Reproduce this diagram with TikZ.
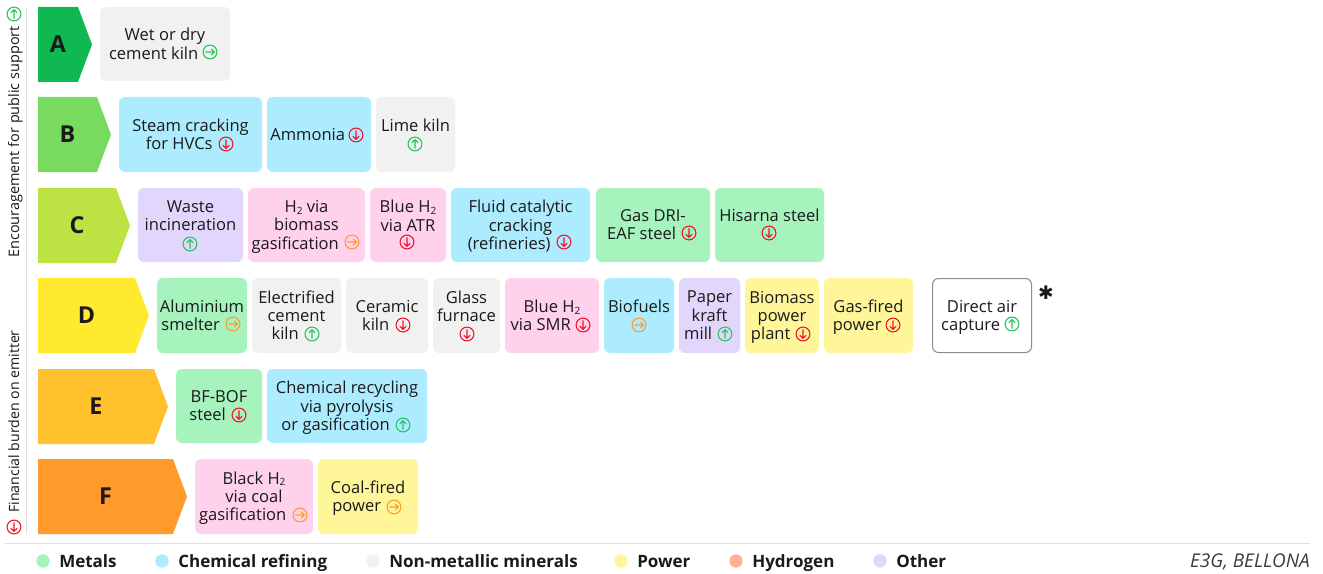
\documentclass[tikz,border=0pt]{standalone}
\usepackage{fontspec}
\setmainfont{Open Sans}
\newfontfamily\dejavu{DejaVu Sans}
\definecolor{cA}{HTML}{10B851}
\definecolor{cB}{HTML}{78DB5F}
\definecolor{cC}{HTML}{BCE244}
\definecolor{cD}{HTML}{FFEA30}
\definecolor{cE}{HTML}{FFC12E}
\definecolor{cF}{HTML}{FF9A2B}
\definecolor{metal}{HTML}{A6F3BE}
\definecolor{chem}{HTML}{ADECFF}
\definecolor{nonmet}{HTML}{F1F1F1}
\definecolor{power}{HTML}{FFF69A}
\definecolor{hyd}{HTML}{FFD1EC}
\definecolor{hydleg}{HTML}{FFB199}
\definecolor{other}{HTML}{E2D6FC}
\definecolor{igreen}{HTML}{22C55E}
\definecolor{ired}{HTML}{F0102A}
\definecolor{iorange}{HTML}{FF9A2B}
\definecolor{ink}{HTML}{1A1A1A}
\newcommand{\Hsub}{H\raisebox{-1.2pt}{\fontsize{7.5}{8}\selectfont 2}}
\newcommand{\ic}{\hspace*{17pt}}
\newcommand{\emptyline}{\mbox{}}
\tikzset{
  x=0.75pt,y=-0.75pt,
  tbox/.style={rounded corners=4.5pt,text=ink,align=center,font=\fontsize{12.4}{13.7}\selectfont,inner sep=0pt,execute at begin node=\strut,execute at end node=\strut},
  gradeL/.style={text=ink,font=\bfseries\fontsize{17.5}{22}\selectfont},
  legtext/.style={anchor=base west,text=ink,font=\bfseries\fontsize{12.75}{16}\selectfont,inner sep=0pt},
  legdot/.style={circle,minimum size=10pt,inner sep=0pt},
  sidetext/.style={rotate=90,anchor=base west,text=ink,inner sep=0pt},
  icongreen/.pic={\draw[igreen,line width=.8pt] (0,0) circle (5.2pt);
     \draw[igreen,line width=.8pt,line cap=round,line join=round] (0,-3.3pt) -- (0,3.3pt) (-2.3pt,1pt) -- (0,3.3pt) -- (2.3pt,1pt);},
  iconred/.pic={\draw[ired,line width=.8pt] (0,0) circle (5.2pt);
     \draw[ired,line width=.8pt,line cap=round,line join=round] (0,3.3pt) -- (0,-3.3pt) (-2.3pt,-1pt) -- (0,-3.3pt) -- (2.3pt,-1pt);},
  iconright/.pic={\draw[#1,line width=.8pt] (0,0) circle (5.2pt);
     \draw[#1,line width=.8pt,line cap=round,line join=round] (-3.3pt,0) -- (3.3pt,0) (1pt,-2.3pt) -- (3.3pt,0) -- (1pt,2.3pt);},
}
\newcommand{\bx}[7]{% name, x1,y1,x2,y2, colour, text
  \path[rounded corners=4.5pt,fill=#6] (#2,#3) rectangle (#4,#5);
  \node[tbox] (#1) at ({(#2+#4)/2},{(#3+#5)/2+2.5}) {#7};}
\newcommand{\chev}[5]{% name, body end, y1, colour, letter
  \fill[#4] (38,#3) -- (#2,#3) -- ({#2+14},{#3+37.5}) -- (#2,{#3+75}) -- (38,{#3+75}) -- cycle;
  \node[gradeL] (#1) at ({(38+#2)/2},{#3+37.5}) {#5};}
\begin{document}
\begin{tikzpicture}
\useasboundingbox[fill=white] (0,0) rectangle (1323,574);
\draw[black!12,line width=.75pt] (26.5,7) -- (26.5,534);
\draw[black!12,line width=.75pt] (5,543.5) -- (1310,543.5);
\node[sidetext,font=\fontsize{10.85}{12}\selectfont] (lab1) at (19,258) {Encouragement for public support};
\node[sidetext,font=\fontsize{10.6}{12}\selectfont] (lab2) at (19,513) {Financial burden on emitter};
\pic at (14,14) {icongreen};
\pic at (14,527) {iconred};
\chev{ga}{78}{7}{cA}{A}
\chev{gb}{97}{97}{cB}{B}
\chev{gc}{116}{188}{cC}{C}
\chev{gd}{135}{278}{cD}{D}
\chev{ge}{154}{369}{cE}{E}
\chev{gf}{173}{459}{cF}{F}
% row A
\bx{a1}{100}{7}{230}{81}{nonmet}{Wet or dry\\cement kiln\ic}
\pic at (210,52) {iconright=igreen};
% row B
\bx{b1}{119}{97}{262}{172}{chem}{Steam cracking\\for HVCs\ic}
\pic at (226,144) {iconred};
\bx{b2}{267}{97}{371}{172}{chem}{Ammonia\ic}
\pic at (356,135) {iconred};
\bx{b3}{376}{97}{455}{172}{nonmet}{Lime kiln\\\emptyline}
\pic at (415,144) {icongreen};
% row C
\bx{c1}{138}{188}{243}{262}{other}{Waste\\incineration\\\emptyline}
\pic at (190,244) {icongreen};
\bx{c2}{248}{188}{365}{262}{hyd}{\Hsub{} via\\biomass\\gasification\ic}
\pic at (352,242) {iconright=iorange};
\bx{c3}{370}{188}{446}{262}{hyd}{Blue \Hsub\\via ATR\\\emptyline}
\pic at (407,242) {iconred};
\bx{c4}{451}{188}{590}{262}{chem}{Fluid catalytic\\cracking\\(refineries)\ic}
\pic at (564,242) {iconred};
\bx{c5}{596}{188}{710}{262}{metal}{Gas DRI-\\EAF steel\ic}
\pic at (689,233) {iconred};
\bx{c6}{715}{188}{824}{262}{metal}{Hisarna steel\\\emptyline}
\pic at (769,233) {iconred};
% row D
\bx{d1}{157}{278}{247}{353}{metal}{Aluminium\\smelter\ic}
\pic at (233,324) {iconright=iorange};
\bx{d2}{252}{278}{341}{353}{nonmet}{Electrified\\cement\\kiln\ic}
\pic at (312,334) {icongreen};
\bx{d3}{346}{278}{428}{353}{nonmet}{Ceramic\\kiln\ic}
\pic at (403,325) {iconred};
\bx{d4}{433}{278}{500}{353}{nonmet}{Glass\\furnace\\\emptyline}
\pic at (467,334) {iconred};
\bx{d5}{505}{278}{599}{353}{hyd}{Blue \Hsub\\via SMR\ic}
\pic at (583,325) {iconred};
\bx{d6}{604}{278}{674}{353}{chem}{Biofuels\\\emptyline}
\pic at (639,325) {iconright=iorange};
\bx{d7}{679}{278}{740}{353}{other}{Paper\\kraft\\mill\ic}
\pic at (725,334) {icongreen};
\bx{d8}{745}{278}{819}{353}{power}{Biomass\\power\\plant\ic}
\pic at (803,334) {iconred};
\bx{d9}{824}{278}{913}{353}{power}{Gas-fired\\power\ic}
\pic at (893,325) {iconred};
\draw[rounded corners=4.5pt,black!45,line width=.75pt] (932.5,278.5) rectangle (1031.5,352.5);
\node[tbox] (d10) at (982,318) {Direct air\\capture\ic};
\pic at (1012,324) {icongreen};
\node[text=ink,inner sep=0pt,font=\dejavu\fontsize{14}{14}\selectfont] (ast) at (1046,293) {✱};
% row E
\bx{e1}{176}{369}{262}{443}{metal}{BF-BOF\\steel\ic}
\pic at (239,415) {iconred};
\bx{e2}{267}{369}{427}{443}{chem}{Chemical recycling\\via pyrolysis\\or gasification\ic}
\pic at (403,425) {icongreen};
% row F
\bx{f1}{195}{459}{313}{534}{hyd}{Black \Hsub\\via coal\\gasification\ic}
\pic at (300,515) {iconright=iorange};
\bx{f2}{318}{459}{418}{534}{power}{Coal-fired\\power\ic}
\pic at (394,507) {iconright=iorange};
% legend
\node[legdot,fill=metal] (k1) at (43,561) {};
\node[legtext] (t1) at (59,567) {Metals};
\node[legdot,fill=chem] (k2) at (162,561) {};
\node[legtext] (t2) at (178,567) {Chemical refining};
\node[legdot,fill=nonmet] (k3) at (373,561) {};
\node[legtext] (t3) at (389,567) {Non-metallic minerals};
\node[legdot,fill=power] (k4) at (621,561) {};
\node[legtext] (t4) at (637,567) {Power};
\node[legdot,fill=hydleg] (k5) at (736,561) {};
\node[legtext] (t5) at (752,567) {Hydrogen};
\node[legdot,fill=other] (k6) at (880,561) {};
\node[legtext] (t6) at (896,567) {Other};
\node[anchor=base east,text=ink!85,inner sep=0pt,font=\fontsize{14.2}{15}\selectfont\itshape] (src) at (1310,567) {E3G, BELLONA};
\end{tikzpicture}
\end{document}
